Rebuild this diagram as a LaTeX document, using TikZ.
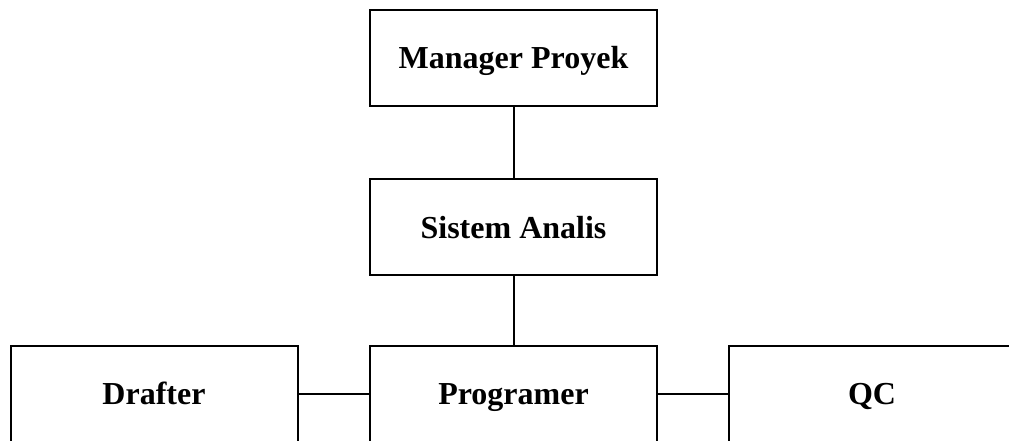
\documentclass[tikz,border=0pt]{standalone}
\usepackage{fontspec}
\setmainfont{Liberation Serif}
\begin{document}
\begin{tikzpicture}[x=0.75pt,y=-0.75pt,
  box/.style={draw=black,line width=1.5pt,minimum width=287*0.75pt,minimum height=96*0.75pt,
    inner sep=0pt,font=\fontsize{24}{28}\selectfont\bfseries,fill=white,
    text height=19pt,text depth=3pt},
  link/.style={draw=black,line width=1.5pt}]
\useasboundingbox (0,0) rectangle (1009,441);
\clip (0,0) rectangle (1009,441);
\node[box] (mgr) at (513.5,58) {Manager Proyek};
\node[box] (sa) at (513.5,227.5) {Sistem Analis};
\node[box] (prog) at (513.5,394) {Programer};
\node[box] (drf) at (154,394) {Drafter};
\node[box] (qc) at (872,394) {QC};
\draw[link] (mgr) -- (sa);
\draw[link] (sa) -- (prog);
\draw[link] (drf) -- (prog);
\draw[link] (prog) -- (qc);
\end{tikzpicture}
\end{document}
